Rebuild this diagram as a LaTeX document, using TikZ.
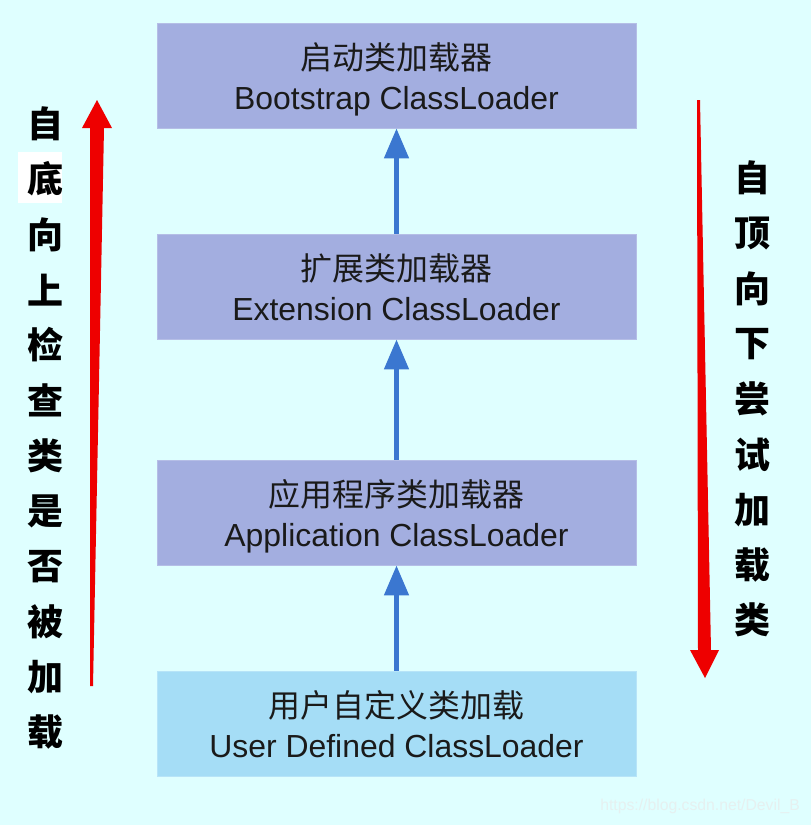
\documentclass[tikz,border=0pt]{standalone}
\usepackage{fontspec}
\setmainfont{Liberation Sans}
\newfontfamily\cjk{Noto Sans CJK SC}
\usepackage{xcolor}
\usetikzlibrary{arrows.meta, positioning}
\definecolor{ldcolor0}{HTML}{DFFFFF}
\definecolor{ldcolor1}{HTML}{A3AEE0}
\definecolor{ldcolor2}{HTML}{A5DDF6}
\definecolor{ldcolor3}{HTML}{3B77D0}
\definecolor{ldcolor4}{HTML}{EE0000}
\definecolor{ldcolor5}{HTML}{1A1A1A}
\definecolor{ldcolor6}{HTML}{E6F0F0}
\tikzset{
  loader_box/.style={fill=ldcolor1, draw=ldcolor1!80!white, line width=0.6pt, minimum width=11.975cm, minimum height=2.625cm, align=center, text=ldcolor5, inner sep=0pt, text height=1.9cm, text depth=0.2cm, font=\fontsize{22.7}{28.4}\selectfont},
  loader_user/.style={loader_box, fill=ldcolor2, draw=ldcolor2!80!white},
  dep_up/.style={color=ldcolor3, line width=3.5pt, -{Triangle[width=0.6cm, length=0.75cm]}},
  side_char/.style={font=\cjk\bfseries\fontsize{25.6}{30}\selectfont, text=black, inner sep=0pt},
  red_arrow/.style={fill=ldcolor4}
}
\begin{document}
\begin{tikzpicture}[x=0.025cm, y=-0.025cm]
\fill[ldcolor0] (0,0) rectangle (811,825);
\useasboundingbox (0,0) rectangle (811,825);
% loader boxes
\node[loader_box] (boot_node) at (396.5, 75.5) {{\cjk 启动类加载器}\\Bootstrap ClassLoader};
\node[loader_box] (ext_node) at (396.5, 286.5) {{\cjk 扩展类加载器}\\Extension ClassLoader};
\node[loader_box] (app_node) at (396.5, 512.5) {{\cjk 应用程序类加载器}\\Application ClassLoader};
\node[loader_user] (user_node) at (396.5, 723.5) {{\cjk 用户自定义类加载}\\User Defined ClassLoader};
\draw[dep_up] (user_node.north) -- (app_node.south);
\draw[dep_up] (app_node.north) -- (ext_node.south);
\draw[dep_up] (ext_node.north) -- (boot_node.south);
% red arrows
\fill[red_arrow] (97,100) -- (112,128) -- (104,128) -- (93,686) -- (90,686) -- (90,128) -- (82,128) -- cycle;
\fill[red_arrow] (697,100) -- (700,100) -- (711,650) -- (719,650) -- (705,678) -- (690,650) -- (698,650) -- cycle;
% left column
\fill[white] (18,152) rectangle (62,203);
\node[side_char] (up_char_0) at (45, 124) {自};
\node[side_char] (up_char_1) at (45, 179) {底};
\node[side_char] (up_char_2) at (45, 234.5) {向};
\node[side_char] (up_char_3) at (45, 290) {上};
\node[side_char] (up_char_4) at (45, 345) {检};
\node[side_char] (up_char_5) at (45, 400.5) {查};
\node[side_char] (up_char_6) at (45, 456) {类};
\node[side_char] (up_char_7) at (45, 511) {是};
\node[side_char] (up_char_8) at (45, 566.5) {否};
\node[side_char] (up_char_9) at (45, 622) {被};
\node[side_char] (up_char_10) at (45, 677) {加};
\node[side_char] (up_char_11) at (45, 732) {载};
% right column
\node[side_char] (down_char_0) at (752, 178) {自};
\node[side_char] (down_char_1) at (752, 233.5) {顶};
\node[side_char] (down_char_2) at (752, 288.5) {向};
\node[side_char] (down_char_3) at (752, 344) {下};
\node[side_char] (down_char_4) at (752, 399) {尝};
\node[side_char] (down_char_5) at (752, 454.5) {试};
\node[side_char] (down_char_6) at (752, 510) {加};
\node[side_char] (down_char_7) at (752, 565) {载};
\node[side_char] (down_char_8) at (752, 620) {类};
\node[font=\fontsize{11.2}{13}\selectfont, text=ldcolor6, anchor=west, inner sep=0pt] (watermark_node) at (600, 806) {https://blog.csdn.net/Devil\_B};
\end{tikzpicture}
\end{document}
